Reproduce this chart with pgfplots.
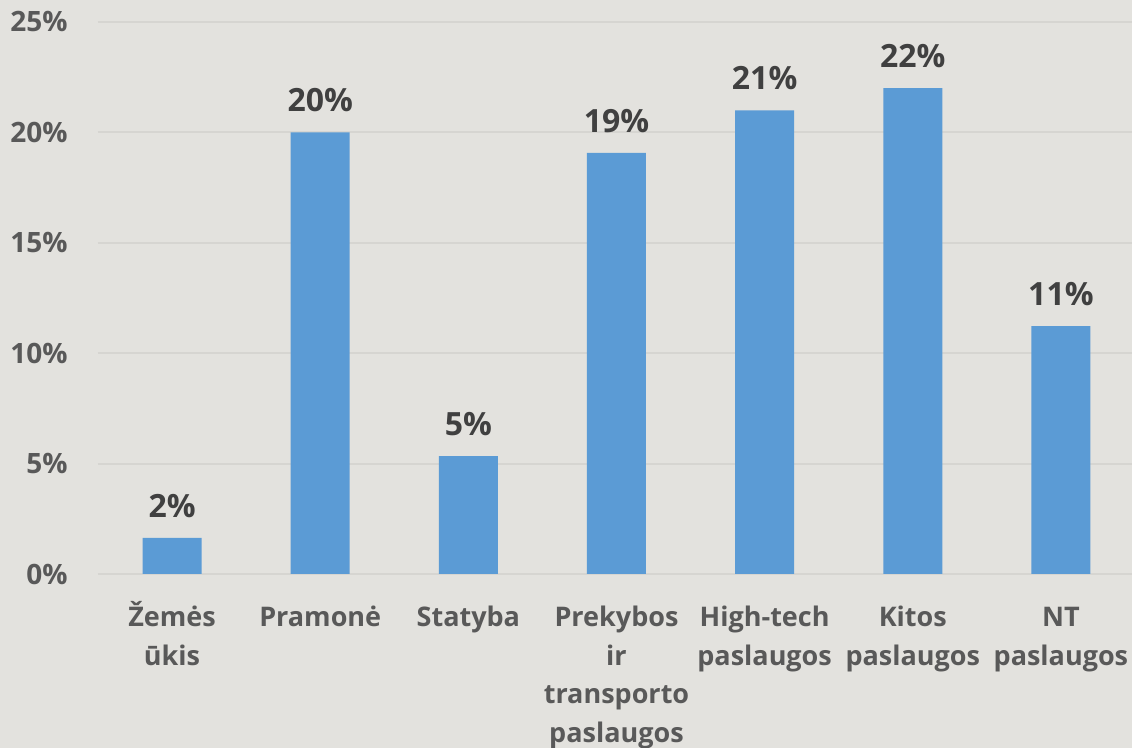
\documentclass[border=0pt]{standalone}
\usepackage{fontspec}
\setmainfont{Open Sans}
\usepackage{pgfplots}
\pgfplotsset{compat=1.18}
\definecolor{bg}{RGB}{227,226,222}
\definecolor{barblue}{RGB}{91,155,213}
\definecolor{gridc}{RGB}{214,213,209}
\definecolor{tickc}{RGB}{89,89,89}
\definecolor{labc}{RGB}{64,64,64}
\newcommand{\fl}{\vphantom{Žb}}

\begin{document}
\begin{tikzpicture}[x=1pt,y=1pt]
\fill[bg] (0,0) rectangle (566,374);
\useasboundingbox (0,0) rectangle (566,374);
\begin{scope}
\clip (0,0) rectangle (566,374);
\begin{axis}[
  at={(49pt,87pt)}, anchor=south west,
  scale only axis,
  width=518.5pt, height=276pt,
  xmin=-0.5, xmax=6.5,
  ymin=0, ymax=25,
  axis line style={draw=none},
  major tick length=0pt,
  ymajorgrids,
  grid style={gridc, line width=1pt},
  ytick={0,5,10,15,20,25},
  yticklabels={0\%,5\%,10\%,15\%,20\%,25\%},
  yticklabel style={font=\fontsize{14}{16}\selectfont\bfseries, text=tickc, anchor=east, inner sep=0pt, xshift=-15pt},
  xtick={0,1,2,3,4,5,6},
  xticklabels={{\fl Žemės\\ūkis},{\fl Pramonė},{\fl Statyba},{\fl Prekybos\\ir\\transporto\\paslaugos},{\fl High-tech\\paslaugos},{\fl Kitos\\paslaugos},{\fl NT\\paslaugos}},
  xticklabel style={font=\fontsize{13.5}{19.3}\selectfont\bfseries, text=tickc, align=center, anchor=north, inner sep=0pt, yshift=-13.5pt},
  ybar, bar width=29.5pt, bar shift=0pt,
  point meta=explicit symbolic,
  nodes near coords,
  every node near coord/.append style={font=\fontsize{16}{18}\selectfont\bfseries, text=labc, anchor=center, yshift=16pt},
  clip=false,
]
\addplot[fill=barblue, draw=none] coordinates {
  (0,1.63) [2\%]
  (1,20.0) [20\%]
  (2,5.34) [5\%]
  (3,19.07) [19\%]
  (4,21.0) [21\%]
  (5,22.0) [22\%]
  (6,11.23) [11\%]
};
\end{axis}
\end{scope}
\end{tikzpicture}
\end{document}
